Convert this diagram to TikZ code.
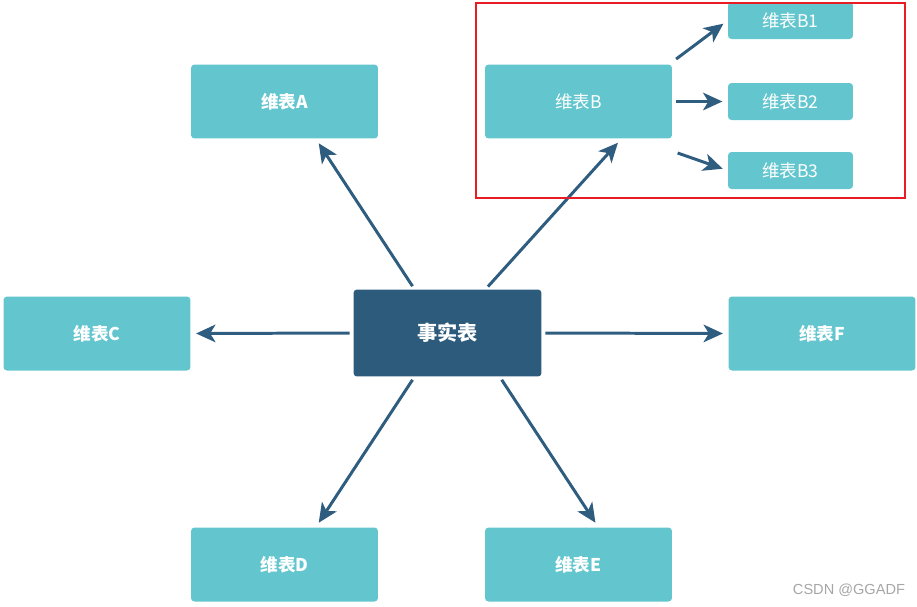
\documentclass[tikz,border=0pt]{standalone}
\usepackage{fontspec}
\newfontfamily\cjk{Noto Sans CJK SC}
\newfontfamily\wmfont{Liberation Sans}
\usetikzlibrary{positioning,arrows.meta}
\definecolor{dimfill}{RGB}{99,198,206}
\definecolor{factfill}{RGB}{45,91,124}
\definecolor{linkcol}{RGB}{47,93,128}
\definecolor{frame}{RGB}{232,28,36}

\begin{document}
\begin{tikzpicture}[x=0.02cm, y=-0.02cm,
  every node/.style={font=\cjk\fontsize{10}{12}\selectfont, text=white, inner sep=0pt},
  dim/.style={rectangle, rounded corners=2pt, fill=dimfill, minimum width=3.74cm, minimum height=1.48cm, font=\cjk\bfseries\fontsize{10}{12}\selectfont},
  subdim/.style={rectangle, rounded corners=2pt, fill=dimfill, minimum width=2.5cm, minimum height=0.74cm},
  fact/.style={rectangle, rounded corners=2pt, fill=factfill, minimum width=3.76cm, minimum height=1.74cm, font=\cjk\bfseries\fontsize{11.5}{13}\selectfont},
  link/.style={draw=linkcol, line width=1.7pt, -{Stealth[length=11pt,width=10pt,inset=3pt]}, shorten <=2pt, shorten >=3pt}]
\useasboundingbox (0,0) rectangle (917,606);

\node (fact) [fact] at (447.5,333) {事实表};
\node (dimA) [dim] at (284.5,101.5) {维表A};
\node (dimB) [dim, font=\cjk\fontsize{10}{12}\selectfont] at (578.5,101.5) {维表B};
\node (dimC) [dim] at (97,333.5) {维表C};
\node (dimD) [dim] at (284.5,564.5) {维表D};
\node (dimE) [dim] at (578.5,564.5) {维表E};
\node (dimF) [dim] at (822,333.5) {维表F};
\node (dimB1) [subdim] at (790.5,20.5) {维表B1};
\node (dimB2) [subdim] at (790.5,101.5) {维表B2};
\node (dimB3) [subdim] at (790.5,170.5) {维表B3};

\draw [link] (fact.127) -- (dimA.-50);
\draw [link] (fact.49) -- (dimB.-41);
\draw [link] (fact.west) -- (dimC.east);
\draw [link] (fact.east) -- (dimF.west);
\draw [link] (fact.-127) -- (dimD.50);
\draw [link] (fact.-40) -- (dimE.62);
\draw [link] ([shift={(1,-3)}]dimB.north east) -- (dimB1.west);
\draw [link] (dimB.east) -- (dimB2.west);
\draw [link] ([shift={(2,13)}]dimB.south east) -- (dimB3.west);

% highlight round the B branch
\draw [frame, line width=1.4pt] (476,3) rectangle (905,198);
\node (mark) [text=black!35, font=\wmfont\fontsize{8.3}{10}\selectfont] at (849,590) {CSDN @GGADF};
\end{tikzpicture}
\end{document}
